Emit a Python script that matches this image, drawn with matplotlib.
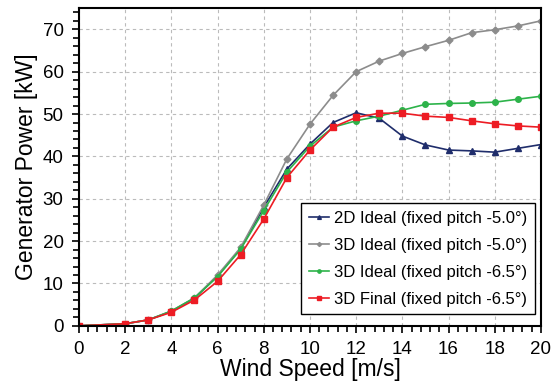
import numpy as np
import matplotlib.pyplot as plt
from matplotlib.ticker import MultipleLocator

plt.rcParams['font.family'] = ['Liberation Sans', 'DejaVu Sans']

# Wind speed [m/s]
wind = [0, 2, 3, 4, 5, 6, 7, 8, 9, 10, 11, 12, 13, 14, 15, 16, 17, 18, 19, 20]

# Generator power [kW]
p_2d_ideal = [0, 0.5, 1.4, 3.4, 6.5, 11.8, 18.2, 28.0, 37.0, 42.9, 48.0, 50.3,
              49.0, 44.8, 42.7, 41.5, 41.3, 41.0, 41.9, 42.8]
p_3d_ideal_50 = [0, 0.5, 1.4, 3.5, 6.6, 12.0, 18.5, 28.5, 39.4, 47.6, 54.4, 60.0,
                 62.5, 64.3, 65.9, 67.4, 69.2, 69.9, 70.8, 72.0]
p_3d_ideal_65 = [0, 0.5, 1.4, 3.5, 6.6, 11.6, 18.1, 27.2, 36.3, 42.4, 46.9, 48.4,
                 49.5, 50.9, 52.3, 52.5, 52.6, 52.8, 53.5, 54.2]
p_3d_final = [0, 0.5, 1.4, 3.2, 6.1, 10.5, 16.8, 25.2, 35.0, 41.5, 46.9, 49.2,
              50.2, 50.2, 49.5, 49.2, 48.4, 47.7, 47.2, 46.9]

fig = plt.figure(figsize=(5.52, 3.87), dpi=100)
ax = fig.add_axes([0.143, 0.158, 0.837, 0.821])

ax.plot(wind, p_2d_ideal, color='#1f2d6b', marker='^', ms=4.5, lw=1.2,
        label='2D Ideal (fixed pitch -5.0°)')
ax.plot(wind, p_3d_ideal_50, color='#8c8c8c', marker='D', ms=3.5, lw=1.2,
        label='3D Ideal (fixed pitch -5.0°)')
ax.plot(wind, p_3d_ideal_65, color='#2db34a', marker='o', ms=4, lw=1.2,
        label='3D Ideal (fixed pitch -6.5°)')
ax.plot(wind, p_3d_final, color='#ed1c24', marker='s', ms=4, lw=1.2,
        label='3D Final (fixed pitch -6.5°)')

ax.set_xlim(0, 20)
ax.set_ylim(0, 75)
ax.xaxis.set_major_locator(MultipleLocator(2))
ax.xaxis.set_minor_locator(MultipleLocator(0.4))
ax.yaxis.set_major_locator(MultipleLocator(10))
ax.yaxis.set_minor_locator(MultipleLocator(2))
ax.tick_params(which='both', direction='out', top=False, right=False,
               width=1.2, labelsize=13.5, pad=6)
ax.tick_params(which='major', length=5)
ax.tick_params(which='minor', length=4)
for s in ax.spines.values():
    s.set_linewidth(1.5)

ax.grid(True, which='major', color='#bbbbbb', linestyle=(0, (3, 3)), linewidth=0.8)
ax.set_axisbelow(True)

ax.set_xlabel('Wind Speed [m/s]', fontsize=16.5, labelpad=0)
ax.set_ylabel('Generator Power [kW]', fontsize=16.5, labelpad=3)

leg = ax.legend(loc='lower right', bbox_to_anchor=(0.997, 0.02), fontsize=12,
                frameon=True, fancybox=False, edgecolor='black', framealpha=1,
                handlelength=1.2, handletextpad=0.3, labelspacing=0.72,
                markerscale=0.6, borderpad=0.45, borderaxespad=0.3)
leg.get_frame().set_linewidth(1.0)

plt.savefig('out.png', dpi=100)
